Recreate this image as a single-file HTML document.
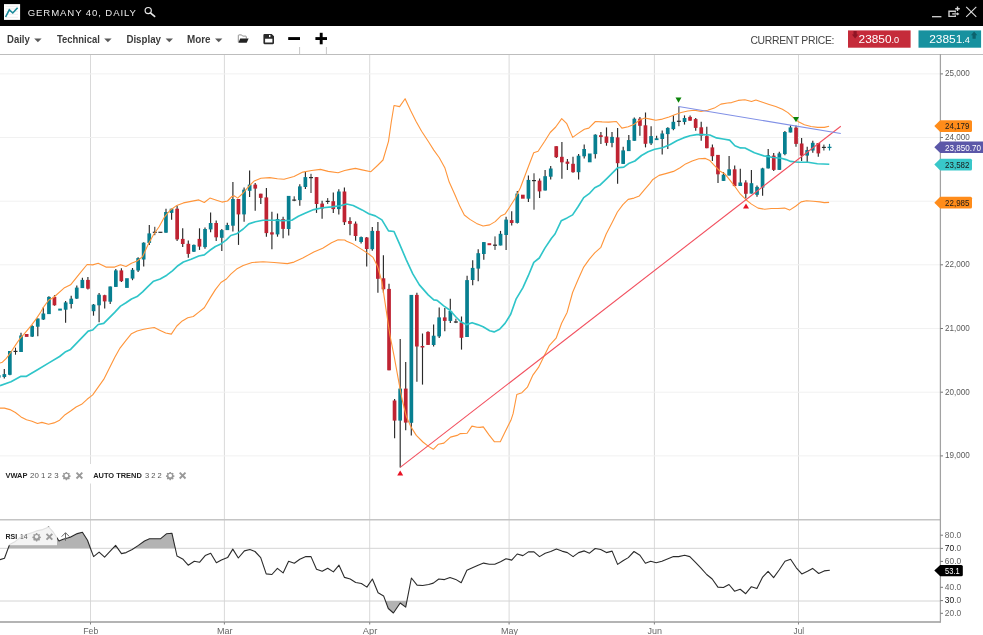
<!DOCTYPE html>
<html><head><meta charset="utf-8"><title>Germany 40, Daily</title>
<style>
html,body{margin:0;padding:0;background:#fff;}
body{width:983px;height:635px;overflow:hidden;position:relative;font-family:"Liberation Sans",sans-serif;}
#hdr{position:absolute;left:0;top:0;width:983px;height:25.6px;background:#000;}
#tb{position:absolute;left:0;top:25.6px;width:983px;height:28.1px;background:#fff;border-bottom:1px solid #bdbdbd;}
svg{position:absolute;left:0;top:0;will-change:transform;}
svg text{font-family:"Liberation Sans",sans-serif;}
</style></head><body>
<div id="hdr"></div><div id="tb"></div>
<svg width="983" height="635" viewBox="0 0 983 635">
<!-- header -->
<rect x="4" y="4.1" width="16.1" height="15.8" fill="#fff"/>
<path d="M5.5,6.4 H18 M5.5,8.9 H18 M5.5,11.6 H18 M5.5,14.3 H18 M5.5,17.3 H18" stroke="#ebebeb" stroke-width="0.8" fill="none"/>
<path d="M5.6,17 L9.3,9.9 L12.8,13 L17.6,7.7" stroke="#17899a" stroke-width="1.6" fill="none" stroke-linejoin="miter"/>
<text x="27.7" y="15.9" font-size="9.6" fill="#e8e8e8" textLength="108.2" lengthAdjust="spacing">GERMANY 40, DAILY</text>
<circle cx="148.2" cy="10.6" r="3.1" stroke="#e6e6e6" stroke-width="1.2" fill="none"/>
<path d="M150.4,12.9 L154.6,16.4" stroke="#e6e6e6" stroke-width="1.7" stroke-linecap="round"/>
<!-- window controls -->
<path d="M932,16.7 H941.4" stroke="#d4d4d4" stroke-width="1.3"/>
<path d="M955.3,12.5 V11.2 H949 V16.4 H955.3 V15.3" stroke="#cfcfcf" stroke-width="1.4" fill="none"/>
<path d="M952.2,13.9 H957.6" stroke="#cfcfcf" stroke-width="1.3" fill="none"/>
<path d="M957,12.2 L959.5,13.9 L957,15.6Z" fill="#cfcfcf"/>
<path d="M955.2,8.7 H959.8 M957.5,6.4 V11" stroke="#d8d8d8" stroke-width="1.4" fill="none"/>
<path d="M966.2,6.8 L976.3,16.9 M976.3,6.8 L966.2,16.9" stroke="#dcdcdc" stroke-width="1.1"/>
<!-- toolbar -->
<g font-weight="bold" font-size="10" fill="#3c3c3c">
<text x="7" y="43.1" textLength="22.8" lengthAdjust="spacingAndGlyphs">Daily</text>
<text x="57" y="43.1" textLength="42.8" lengthAdjust="spacingAndGlyphs">Technical</text>
<text x="126.4" y="43.1" textLength="34.6" lengthAdjust="spacingAndGlyphs">Display</text>
<text x="187" y="43.1" textLength="23.6" lengthAdjust="spacingAndGlyphs">More</text>
</g>
<g fill="#5a5a5a">
<path d="M34.2,38.6 h7.4 l-3.7,3.6z"/><path d="M104.2,38.6 h7.4 l-3.7,3.6z"/><path d="M165.6,38.6 h7.4 l-3.7,3.6z"/><path d="M215,38.6 h7.4 l-3.7,3.6z"/>
</g>
<!-- folder -->
<path d="M238.3,42.2 V35.6 Q238.3,34.9 239,34.9 H241.6 L242.6,36.1 H245.6 Q246.3,36.1 246.3,36.8 V38.6" stroke="#777" stroke-width="0.8" fill="#fff"/>
<path d="M240.2,38.6 H248.6 L246.7,42.8 H238.4Z" fill="#222"/>
<!-- save -->
<path d="M263.4,35 Q263.4,33.9 264.5,33.9 H271.7 L274,36.2 V43.1 Q274,44.2 272.9,44.2 H264.5 Q263.4,44.2 263.4,43.1Z M265.1,38.8 V42.6 H272.4 V38.8Z" fill="#2a2a2a" fill-rule="evenodd"/>
<rect x="269" y="35" width="1.4" height="2.1" fill="#fff"/>
<!-- minus plus -->
<rect x="288.2" y="37.1" width="11.8" height="2.9" fill="#000"/>
<rect x="315.4" y="37.1" width="11.6" height="2.9" fill="#000"/><rect x="319.75" y="32.8" width="2.9" height="11.5" fill="#000"/>
<path d="M299.6,47 V54 M326.4,47 V54" stroke="#c8c8c8" stroke-width="1"/>
<!-- current price -->
<text x="750.4" y="44" font-size="10.4" fill="#444" textLength="84" lengthAdjust="spacing">CURRENT PRICE:</text>
<rect x="848" y="30.4" width="62.6" height="17.3" fill="#c52b3a"/>
<rect x="918.5" y="30.4" width="62.6" height="17.3" fill="#17919f"/>
<text x="858.6" y="43.2" font-size="10.6" fill="#fff" textLength="40.6" lengthAdjust="spacingAndGlyphs">23850<tspan font-size="8.2">.0</tspan></text>
<text x="929.2" y="43.2" font-size="10.6" fill="#fff" textLength="40.8" lengthAdjust="spacingAndGlyphs">23851<tspan font-size="8.2">.4</tspan></text>
<path d="M853.5,31 h3.2 v3.6 h1.6 l-3.2,3.8 -3.2,-3.8 h1.6z" fill="#8f1424"/>
<path d="M972.5,38.8 h3.2 v-3.6 h1.6 l-3.2,-3.8 -3.2,3.8 h1.6z" fill="#0c626d"/>
<!-- chart -->
<line x1="90.5" y1="55" x2="90.5" y2="624" stroke="#d9d9d9" stroke-width="1"/>
<line x1="224.4" y1="55" x2="224.4" y2="624" stroke="#d9d9d9" stroke-width="1"/>
<line x1="369.7" y1="55" x2="369.7" y2="624" stroke="#d9d9d9" stroke-width="1"/>
<line x1="509.1" y1="55" x2="509.1" y2="624" stroke="#d9d9d9" stroke-width="1"/>
<line x1="654.4" y1="55" x2="654.4" y2="624" stroke="#d9d9d9" stroke-width="1"/>
<line x1="798.5" y1="55" x2="798.5" y2="624" stroke="#d9d9d9" stroke-width="1"/>
<line x1="0" y1="73.9" x2="940" y2="73.9" stroke="#f1f1f1" stroke-width="1"/>
<line x1="0" y1="137.5" x2="940" y2="137.5" stroke="#f1f1f1" stroke-width="1"/>
<line x1="0" y1="201.2" x2="940" y2="201.2" stroke="#f1f1f1" stroke-width="1"/>
<line x1="0" y1="264.8" x2="940" y2="264.8" stroke="#f1f1f1" stroke-width="1"/>
<line x1="0" y1="328.5" x2="940" y2="328.5" stroke="#f1f1f1" stroke-width="1"/>
<line x1="0" y1="392.2" x2="940" y2="392.2" stroke="#f1f1f1" stroke-width="1"/>
<line x1="0" y1="455.9" x2="940" y2="455.9" stroke="#f1f1f1" stroke-width="1"/>
<line x1="0" y1="548.3" x2="940" y2="548.3" stroke="#d4d4d4" stroke-width="1"/>
<line x1="0" y1="601" x2="940" y2="601" stroke="#d4d4d4" stroke-width="1"/>
<rect x="-3.1" y="375.2" width="3.7" height="2.4" fill="#077f90"/>
<line x1="4.3" y1="369.1" x2="4.3" y2="378.5" stroke="#2a2a2a" stroke-width="1.15"/>
<rect x="2.5" y="374.1" width="3.7" height="2.9" fill="#077f90"/>
<line x1="9.9" y1="351" x2="9.9" y2="375.2" stroke="#2a2a2a" stroke-width="1.15"/>
<rect x="8" y="351" width="3.7" height="23.8" fill="#077f90"/>
<line x1="15.5" y1="347.7" x2="15.5" y2="354.7" stroke="#2a2a2a" stroke-width="1"/>
<line x1="13.5" y1="351.4" x2="17.5" y2="351.4" stroke="#2a2a2a" stroke-width="1.2"/>
<line x1="21" y1="332.7" x2="21" y2="352.1" stroke="#2a2a2a" stroke-width="1.15"/>
<rect x="19.2" y="335.5" width="3.7" height="16.5" fill="#077f90"/>
<rect x="24.8" y="334" width="3.7" height="2.9" fill="#bf2332"/>
<line x1="32.2" y1="325.2" x2="32.2" y2="337.1" stroke="#2a2a2a" stroke-width="1.15"/>
<rect x="30.3" y="326" width="3.7" height="10.6" fill="#077f90"/>
<line x1="37.8" y1="318.5" x2="37.8" y2="336.2" stroke="#2a2a2a" stroke-width="1.15"/>
<rect x="35.9" y="318.5" width="3.7" height="8.2" fill="#077f90"/>
<line x1="43.3" y1="307.3" x2="43.3" y2="320.1" stroke="#2a2a2a" stroke-width="1.15"/>
<rect x="41.5" y="313.5" width="3.7" height="6" fill="#077f90"/>
<line x1="48.9" y1="296.3" x2="48.9" y2="314.1" stroke="#2a2a2a" stroke-width="1.15"/>
<rect x="47.1" y="296.9" width="3.7" height="17.2" fill="#077f90"/>
<line x1="54.5" y1="295.2" x2="54.5" y2="305.7" stroke="#2a2a2a" stroke-width="1.15"/>
<rect x="52.6" y="296.9" width="3.7" height="8.4" fill="#bf2332"/>
<rect x="58.2" y="308.6" width="3.7" height="2" fill="#077f90"/>
<line x1="65.6" y1="300.9" x2="65.6" y2="322.7" stroke="#2a2a2a" stroke-width="1.15"/>
<rect x="63.8" y="302.4" width="3.7" height="7.3" fill="#077f90"/>
<line x1="71.2" y1="295.8" x2="71.2" y2="308.6" stroke="#2a2a2a" stroke-width="1.15"/>
<rect x="69.4" y="298.7" width="3.7" height="5.3" fill="#077f90"/>
<line x1="76.8" y1="285.4" x2="76.8" y2="299.1" stroke="#2a2a2a" stroke-width="1.15"/>
<rect x="74.9" y="287.6" width="3.7" height="11" fill="#077f90"/>
<line x1="82.4" y1="277.7" x2="82.4" y2="288.1" stroke="#2a2a2a" stroke-width="1.15"/>
<rect x="80.5" y="279.9" width="3.7" height="8.2" fill="#077f90"/>
<line x1="87.9" y1="277.1" x2="87.9" y2="289.6" stroke="#2a2a2a" stroke-width="1.15"/>
<rect x="86.1" y="279.9" width="3.7" height="8.8" fill="#bf2332"/>
<line x1="93.5" y1="304" x2="93.5" y2="315.7" stroke="#2a2a2a" stroke-width="1.15"/>
<rect x="91.7" y="304.6" width="3.7" height="6.6" fill="#077f90"/>
<line x1="99.1" y1="292.9" x2="99.1" y2="322.3" stroke="#2a2a2a" stroke-width="1.15"/>
<rect x="97.2" y="294.7" width="3.7" height="10.6" fill="#077f90"/>
<line x1="104.7" y1="294.7" x2="104.7" y2="308.6" stroke="#2a2a2a" stroke-width="1.15"/>
<rect x="102.8" y="295.2" width="3.7" height="6.2" fill="#bf2332"/>
<line x1="110.2" y1="286.5" x2="110.2" y2="304" stroke="#2a2a2a" stroke-width="1.15"/>
<rect x="108.4" y="286.5" width="3.7" height="15.2" fill="#077f90"/>
<line x1="115.8" y1="269.1" x2="115.8" y2="287" stroke="#2a2a2a" stroke-width="1.15"/>
<rect x="114" y="270.4" width="3.7" height="16.5" fill="#077f90"/>
<line x1="121.4" y1="268.2" x2="121.4" y2="281.9" stroke="#2a2a2a" stroke-width="1.15"/>
<rect x="119.5" y="270.4" width="3.7" height="10.8" fill="#bf2332"/>
<rect x="125.1" y="278.2" width="3.7" height="9.7" fill="#077f90"/>
<line x1="132.5" y1="268" x2="132.5" y2="280.2" stroke="#2a2a2a" stroke-width="1.15"/>
<rect x="130.7" y="269.8" width="3.7" height="8.8" fill="#077f90"/>
<line x1="138.1" y1="257.2" x2="138.1" y2="272" stroke="#2a2a2a" stroke-width="1.15"/>
<rect x="136.3" y="258.1" width="3.7" height="12.4" fill="#077f90"/>
<line x1="143.7" y1="242.2" x2="143.7" y2="266.5" stroke="#2a2a2a" stroke-width="1.15"/>
<rect x="141.8" y="242.7" width="3.7" height="16.8" fill="#077f90"/>
<line x1="149.3" y1="225" x2="149.3" y2="244.9" stroke="#2a2a2a" stroke-width="1.15"/>
<rect x="147.4" y="233.4" width="3.7" height="9.5" fill="#077f90"/>
<line x1="154.8" y1="226.8" x2="154.8" y2="235.2" stroke="#2a2a2a" stroke-width="1"/>
<line x1="152.8" y1="232.3" x2="156.8" y2="232.3" stroke="#2a2a2a" stroke-width="1.2"/>
<line x1="160.4" y1="232.1" x2="160.4" y2="232.5" stroke="#2a2a2a" stroke-width="1"/>
<line x1="158.4" y1="232.3" x2="162.4" y2="232.3" stroke="#2a2a2a" stroke-width="1.2"/>
<line x1="166" y1="208.7" x2="166" y2="232.7" stroke="#2a2a2a" stroke-width="1.15"/>
<rect x="164.1" y="212" width="3.7" height="20.7" fill="#077f90"/>
<line x1="171.6" y1="208.7" x2="171.6" y2="219.7" stroke="#2a2a2a" stroke-width="1.15"/>
<rect x="169.7" y="208.7" width="3.7" height="4.2" fill="#077f90"/>
<line x1="177.1" y1="205.8" x2="177.1" y2="241.1" stroke="#2a2a2a" stroke-width="1.15"/>
<rect x="175.3" y="208.7" width="3.7" height="30.7" fill="#bf2332"/>
<line x1="182.7" y1="228.3" x2="182.7" y2="247.1" stroke="#2a2a2a" stroke-width="1.15"/>
<rect x="180.9" y="238.9" width="3.7" height="5.1" fill="#bf2332"/>
<line x1="188.3" y1="240.4" x2="188.3" y2="257.7" stroke="#2a2a2a" stroke-width="1.15"/>
<rect x="186.5" y="243.8" width="3.7" height="10.1" fill="#bf2332"/>
<line x1="193.9" y1="244.4" x2="193.9" y2="252.1" stroke="#2a2a2a" stroke-width="1.15"/>
<rect x="192" y="244.9" width="3.7" height="6.8" fill="#077f90"/>
<line x1="199.5" y1="228.3" x2="199.5" y2="249.9" stroke="#2a2a2a" stroke-width="1.15"/>
<rect x="197.6" y="238.9" width="3.7" height="7.7" fill="#bf2332"/>
<line x1="205" y1="227.4" x2="205" y2="248.8" stroke="#2a2a2a" stroke-width="1.15"/>
<rect x="203.2" y="229" width="3.7" height="18.1" fill="#077f90"/>
<line x1="210.6" y1="212.4" x2="210.6" y2="232.3" stroke="#2a2a2a" stroke-width="1.15"/>
<rect x="208.8" y="223" width="3.7" height="6.4" fill="#077f90"/>
<line x1="216.2" y1="220.6" x2="216.2" y2="241.1" stroke="#2a2a2a" stroke-width="1.15"/>
<rect x="214.3" y="223" width="3.7" height="14.3" fill="#bf2332"/>
<line x1="221.8" y1="229" x2="221.8" y2="251" stroke="#2a2a2a" stroke-width="1.15"/>
<rect x="219.9" y="230.1" width="3.7" height="7.7" fill="#077f90"/>
<line x1="227.3" y1="222.8" x2="227.3" y2="230.1" stroke="#2a2a2a" stroke-width="1.15"/>
<rect x="225.5" y="225" width="3.7" height="5.1" fill="#077f90"/>
<line x1="232.9" y1="182" x2="232.9" y2="231.6" stroke="#2a2a2a" stroke-width="1.15"/>
<rect x="231.1" y="199" width="3.7" height="26.7" fill="#077f90"/>
<line x1="238.5" y1="199" x2="238.5" y2="244.9" stroke="#2a2a2a" stroke-width="1.15"/>
<rect x="236.6" y="199" width="3.7" height="15.4" fill="#bf2332"/>
<line x1="244.1" y1="187.5" x2="244.1" y2="221.7" stroke="#2a2a2a" stroke-width="1.15"/>
<rect x="242.2" y="189.7" width="3.7" height="24.7" fill="#077f90"/>
<line x1="249.6" y1="170.5" x2="249.6" y2="197" stroke="#2a2a2a" stroke-width="1.15"/>
<rect x="247.8" y="184.6" width="3.7" height="6.2" fill="#077f90"/>
<line x1="255.2" y1="183.1" x2="255.2" y2="210.7" stroke="#2a2a2a" stroke-width="1.15"/>
<rect x="253.4" y="184.6" width="3.7" height="4" fill="#bf2332"/>
<line x1="260.8" y1="193.7" x2="260.8" y2="204" stroke="#2a2a2a" stroke-width="1.15"/>
<rect x="258.9" y="193.7" width="3.7" height="4.2" fill="#bf2332"/>
<line x1="266.4" y1="187.9" x2="266.4" y2="236.7" stroke="#2a2a2a" stroke-width="1.15"/>
<rect x="264.5" y="197.4" width="3.7" height="35.7" fill="#bf2332"/>
<line x1="271.9" y1="211.8" x2="271.9" y2="249.3" stroke="#2a2a2a" stroke-width="1.15"/>
<rect x="270.1" y="232.3" width="3.7" height="2.2" fill="#bf2332"/>
<line x1="277.5" y1="213.5" x2="277.5" y2="236.7" stroke="#2a2a2a" stroke-width="1.15"/>
<rect x="275.7" y="219" width="3.7" height="15.4" fill="#077f90"/>
<line x1="283.1" y1="216.8" x2="283.1" y2="238.2" stroke="#2a2a2a" stroke-width="1.15"/>
<rect x="281.2" y="219" width="3.7" height="9.9" fill="#bf2332"/>
<line x1="288.7" y1="195.9" x2="288.7" y2="235.4" stroke="#2a2a2a" stroke-width="1.15"/>
<rect x="286.8" y="195.9" width="3.7" height="33.1" fill="#077f90"/>
<line x1="294.2" y1="196.3" x2="294.2" y2="201.2" stroke="#2a2a2a" stroke-width="1"/>
<line x1="292.2" y1="200.1" x2="296.2" y2="200.1" stroke="#2a2a2a" stroke-width="1.2"/>
<line x1="299.8" y1="184.2" x2="299.8" y2="205.8" stroke="#2a2a2a" stroke-width="1.15"/>
<rect x="298" y="186.4" width="3.7" height="13.7" fill="#077f90"/>
<line x1="305.4" y1="171" x2="305.4" y2="189" stroke="#2a2a2a" stroke-width="1.15"/>
<rect x="303.5" y="177.1" width="3.7" height="9.9" fill="#077f90"/>
<line x1="311" y1="173.8" x2="311" y2="193" stroke="#2a2a2a" stroke-width="1"/>
<line x1="309" y1="177.6" x2="313" y2="177.6" stroke="#2a2a2a" stroke-width="1.2"/>
<line x1="316.5" y1="177.1" x2="316.5" y2="212.9" stroke="#2a2a2a" stroke-width="1.15"/>
<rect x="314.7" y="177.1" width="3.7" height="26.9" fill="#bf2332"/>
<line x1="322.1" y1="200.7" x2="322.1" y2="218.8" stroke="#2a2a2a" stroke-width="1.15"/>
<rect x="320.3" y="203.6" width="3.7" height="4.9" fill="#bf2332"/>
<line x1="327.7" y1="198.1" x2="327.7" y2="204" stroke="#2a2a2a" stroke-width="1"/>
<line x1="325.7" y1="201.4" x2="329.7" y2="201.4" stroke="#2a2a2a" stroke-width="1.2"/>
<line x1="333.3" y1="192.6" x2="333.3" y2="212.9" stroke="#2a2a2a" stroke-width="1.15"/>
<rect x="331.4" y="201.2" width="3.7" height="7.9" fill="#bf2332"/>
<line x1="338.8" y1="189.3" x2="338.8" y2="214.4" stroke="#2a2a2a" stroke-width="1.15"/>
<rect x="337" y="191.5" width="3.7" height="17.6" fill="#077f90"/>
<line x1="344.4" y1="187.5" x2="344.4" y2="225" stroke="#2a2a2a" stroke-width="1.15"/>
<rect x="342.6" y="191.5" width="3.7" height="30.7" fill="#bf2332"/>
<line x1="350" y1="217.2" x2="350" y2="235.3" stroke="#2a2a2a" stroke-width="1.15"/>
<rect x="348.1" y="221" width="3.7" height="2.9" fill="#bf2332"/>
<line x1="355.6" y1="221.4" x2="355.6" y2="240.8" stroke="#2a2a2a" stroke-width="1.15"/>
<rect x="353.7" y="223.6" width="3.7" height="12.4" fill="#bf2332"/>
<line x1="361.1" y1="236.4" x2="361.1" y2="243.5" stroke="#2a2a2a" stroke-width="1.15"/>
<rect x="359.3" y="237.1" width="3.7" height="4.9" fill="#077f90"/>
<line x1="366.7" y1="237.1" x2="366.7" y2="266.6" stroke="#2a2a2a" stroke-width="1.15"/>
<rect x="364.9" y="237.5" width="3.7" height="11.5" fill="#bf2332"/>
<line x1="372.3" y1="227.1" x2="372.3" y2="250.7" stroke="#2a2a2a" stroke-width="1.15"/>
<rect x="370.4" y="230.9" width="3.7" height="18.3" fill="#077f90"/>
<line x1="377.9" y1="222.1" x2="377.9" y2="292.7" stroke="#2a2a2a" stroke-width="1.15"/>
<rect x="376" y="230.9" width="3.7" height="47.9" fill="#bf2332"/>
<line x1="383.4" y1="255.2" x2="383.4" y2="292.7" stroke="#2a2a2a" stroke-width="1.15"/>
<rect x="381.6" y="278.3" width="3.7" height="11" fill="#bf2332"/>
<line x1="389" y1="283.8" x2="389" y2="370.3" stroke="#2a2a2a" stroke-width="1.15"/>
<rect x="387.2" y="288.9" width="3.7" height="81.4" fill="#bf2332"/>
<line x1="394.6" y1="399" x2="394.6" y2="438.2" stroke="#2a2a2a" stroke-width="1.15"/>
<rect x="392.7" y="400.5" width="3.7" height="20.1" fill="#bf2332"/>
<line x1="400.2" y1="339" x2="400.2" y2="467.4" stroke="#2a2a2a" stroke-width="1.15"/>
<rect x="398.3" y="388.6" width="3.7" height="32" fill="#077f90"/>
<line x1="405.7" y1="362.1" x2="405.7" y2="430.3" stroke="#2a2a2a" stroke-width="1.15"/>
<rect x="403.9" y="388.6" width="3.7" height="34" fill="#bf2332"/>
<line x1="411.3" y1="294.9" x2="411.3" y2="435.4" stroke="#2a2a2a" stroke-width="1.15"/>
<rect x="409.5" y="294.9" width="3.7" height="127.9" fill="#077f90"/>
<line x1="416.9" y1="292.7" x2="416.9" y2="381.8" stroke="#2a2a2a" stroke-width="1.15"/>
<rect x="415" y="294.9" width="3.7" height="51.6" fill="#bf2332"/>
<line x1="422.5" y1="333.5" x2="422.5" y2="384.6" stroke="#2a2a2a" stroke-width="1.15"/>
<rect x="420.6" y="346" width="3.7" height="1.5" fill="#bf2332"/>
<line x1="428" y1="331.3" x2="428" y2="344.9" stroke="#2a2a2a" stroke-width="1.15"/>
<rect x="426.2" y="331.9" width="3.7" height="13" fill="#bf2332"/>
<line x1="433.6" y1="324.6" x2="433.6" y2="346.5" stroke="#2a2a2a" stroke-width="1.15"/>
<rect x="431.8" y="335.7" width="3.7" height="9.3" fill="#077f90"/>
<line x1="439.2" y1="307.4" x2="439.2" y2="337.9" stroke="#2a2a2a" stroke-width="1.15"/>
<rect x="437.3" y="317.4" width="3.7" height="19" fill="#077f90"/>
<line x1="444.8" y1="308.1" x2="444.8" y2="331.3" stroke="#2a2a2a" stroke-width="1.15"/>
<rect x="442.9" y="317.4" width="3.7" height="3.5" fill="#bf2332"/>
<line x1="450.3" y1="298.8" x2="450.3" y2="323.1" stroke="#2a2a2a" stroke-width="1.15"/>
<rect x="448.5" y="311" width="3.7" height="9.9" fill="#077f90"/>
<line x1="455.9" y1="318.7" x2="455.9" y2="323.1" stroke="#2a2a2a" stroke-width="1"/>
<line x1="453.9" y1="322" x2="457.9" y2="322" stroke="#2a2a2a" stroke-width="1.2"/>
<line x1="461.5" y1="316.5" x2="461.5" y2="349.6" stroke="#2a2a2a" stroke-width="1.15"/>
<rect x="459.6" y="322.4" width="3.7" height="15.4" fill="#bf2332"/>
<line x1="467.1" y1="275.7" x2="467.1" y2="337" stroke="#2a2a2a" stroke-width="1.15"/>
<rect x="465.2" y="280.1" width="3.7" height="56.9" fill="#077f90"/>
<line x1="472.7" y1="260.2" x2="472.7" y2="285.2" stroke="#2a2a2a" stroke-width="1.15"/>
<rect x="470.8" y="267.9" width="3.7" height="12.1" fill="#077f90"/>
<line x1="478.2" y1="249.2" x2="478.2" y2="281.2" stroke="#2a2a2a" stroke-width="1.15"/>
<rect x="476.4" y="253.2" width="3.7" height="15.4" fill="#077f90"/>
<line x1="483.8" y1="242.1" x2="483.8" y2="259.8" stroke="#2a2a2a" stroke-width="1.15"/>
<rect x="482" y="242.1" width="3.7" height="11.9" fill="#077f90"/>
<rect x="487.5" y="243.2" width="3.7" height="2" fill="#bf2332"/>
<line x1="495" y1="236.4" x2="495" y2="249.9" stroke="#2a2a2a" stroke-width="1"/>
<line x1="493" y1="245.2" x2="497" y2="245.2" stroke="#2a2a2a" stroke-width="1.2"/>
<line x1="500.5" y1="230.9" x2="500.5" y2="245.4" stroke="#2a2a2a" stroke-width="1.15"/>
<rect x="498.7" y="233.8" width="3.7" height="11.7" fill="#077f90"/>
<line x1="506.1" y1="216.8" x2="506.1" y2="249.9" stroke="#2a2a2a" stroke-width="1.15"/>
<rect x="504.3" y="219.6" width="3.7" height="15.4" fill="#077f90"/>
<line x1="511.7" y1="211.3" x2="511.7" y2="225.6" stroke="#2a2a2a" stroke-width="1.15"/>
<rect x="509.8" y="220.1" width="3.7" height="2.9" fill="#bf2332"/>
<line x1="517.3" y1="191" x2="517.3" y2="223.4" stroke="#2a2a2a" stroke-width="1.15"/>
<rect x="515.4" y="193.6" width="3.7" height="29.3" fill="#077f90"/>
<rect x="521" y="194.7" width="3.7" height="4" fill="#bf2332"/>
<line x1="528.4" y1="175.5" x2="528.4" y2="202" stroke="#2a2a2a" stroke-width="1.15"/>
<rect x="526.6" y="179.9" width="3.7" height="18.8" fill="#077f90"/>
<line x1="534" y1="173.3" x2="534" y2="209.7" stroke="#2a2a2a" stroke-width="1"/>
<line x1="532" y1="180.6" x2="536" y2="180.6" stroke="#2a2a2a" stroke-width="1.2"/>
<line x1="539.6" y1="178.4" x2="539.6" y2="198" stroke="#2a2a2a" stroke-width="1.15"/>
<rect x="537.7" y="180.6" width="3.7" height="10.8" fill="#bf2332"/>
<line x1="545.1" y1="170" x2="545.1" y2="190.5" stroke="#2a2a2a" stroke-width="1.15"/>
<rect x="543.3" y="176.2" width="3.7" height="14.3" fill="#077f90"/>
<line x1="550.7" y1="166" x2="550.7" y2="179.5" stroke="#2a2a2a" stroke-width="1.15"/>
<rect x="548.9" y="168.5" width="3.7" height="8.2" fill="#077f90"/>
<line x1="556.3" y1="146.2" x2="556.3" y2="157.9" stroke="#2a2a2a" stroke-width="1.15"/>
<rect x="554.4" y="146.2" width="3.7" height="11" fill="#bf2332"/>
<line x1="561.9" y1="142" x2="561.9" y2="178.8" stroke="#2a2a2a" stroke-width="1.15"/>
<rect x="560" y="156.8" width="3.7" height="5.5" fill="#bf2332"/>
<line x1="567.4" y1="159" x2="567.4" y2="170" stroke="#2a2a2a" stroke-width="1.15"/>
<rect x="565.6" y="161.6" width="3.7" height="2.2" fill="#bf2332"/>
<line x1="573" y1="156.8" x2="573" y2="172.7" stroke="#2a2a2a" stroke-width="1.15"/>
<rect x="571.2" y="163.8" width="3.7" height="8.4" fill="#bf2332"/>
<line x1="578.6" y1="154.1" x2="578.6" y2="179.5" stroke="#2a2a2a" stroke-width="1.15"/>
<rect x="576.7" y="155.7" width="3.7" height="16.5" fill="#077f90"/>
<line x1="584.2" y1="144.6" x2="584.2" y2="158.5" stroke="#2a2a2a" stroke-width="1.15"/>
<rect x="582.3" y="149" width="3.7" height="7.3" fill="#077f90"/>
<rect x="587.9" y="153.5" width="3.7" height="8.8" fill="#077f90"/>
<line x1="595.3" y1="134.3" x2="595.3" y2="158.5" stroke="#2a2a2a" stroke-width="1.15"/>
<rect x="593.5" y="134.7" width="3.7" height="19.4" fill="#077f90"/>
<line x1="600.9" y1="132.1" x2="600.9" y2="144" stroke="#2a2a2a" stroke-width="1.15"/>
<rect x="599" y="135.2" width="3.7" height="1.8" fill="#bf2332"/>
<line x1="606.5" y1="127.4" x2="606.5" y2="145.7" stroke="#2a2a2a" stroke-width="1.15"/>
<rect x="604.6" y="136.5" width="3.7" height="6.4" fill="#bf2332"/>
<line x1="612" y1="132.1" x2="612" y2="147.3" stroke="#2a2a2a" stroke-width="1.15"/>
<rect x="610.2" y="136.9" width="3.7" height="6" fill="#077f90"/>
<line x1="617.6" y1="127.9" x2="617.6" y2="183.8" stroke="#2a2a2a" stroke-width="1.15"/>
<rect x="615.8" y="137.4" width="3.7" height="25.8" fill="#bf2332"/>
<line x1="623.2" y1="146.7" x2="623.2" y2="163.9" stroke="#2a2a2a" stroke-width="1.15"/>
<rect x="621.3" y="150.4" width="3.7" height="13.5" fill="#077f90"/>
<line x1="628.8" y1="135" x2="628.8" y2="151.1" stroke="#2a2a2a" stroke-width="1.15"/>
<rect x="626.9" y="140.1" width="3.7" height="11" fill="#077f90"/>
<line x1="634.3" y1="117.6" x2="634.3" y2="140.7" stroke="#2a2a2a" stroke-width="1.15"/>
<rect x="632.5" y="118.7" width="3.7" height="22.1" fill="#077f90"/>
<line x1="639.9" y1="116.9" x2="639.9" y2="135.7" stroke="#2a2a2a" stroke-width="1.15"/>
<rect x="638.1" y="118.7" width="3.7" height="7.1" fill="#bf2332"/>
<line x1="645.5" y1="112.5" x2="645.5" y2="147.4" stroke="#2a2a2a" stroke-width="1.15"/>
<rect x="643.6" y="125.3" width="3.7" height="18.5" fill="#bf2332"/>
<line x1="651.1" y1="126.2" x2="651.1" y2="144.9" stroke="#2a2a2a" stroke-width="1.15"/>
<rect x="649.2" y="136.1" width="3.7" height="7.3" fill="#077f90"/>
<line x1="656.6" y1="135.7" x2="656.6" y2="140.1" stroke="#2a2a2a" stroke-width="1.15"/>
<rect x="654.8" y="138.3" width="3.7" height="1.8" fill="#077f90"/>
<line x1="662.2" y1="130.6" x2="662.2" y2="154.4" stroke="#2a2a2a" stroke-width="1.15"/>
<rect x="660.4" y="133.5" width="3.7" height="5.5" fill="#077f90"/>
<line x1="667.8" y1="127.3" x2="667.8" y2="148.9" stroke="#2a2a2a" stroke-width="1.15"/>
<rect x="665.9" y="127.9" width="3.7" height="6.2" fill="#077f90"/>
<line x1="673.4" y1="115.4" x2="673.4" y2="130.2" stroke="#2a2a2a" stroke-width="1.15"/>
<rect x="671.5" y="121.8" width="3.7" height="7.3" fill="#077f90"/>
<line x1="678.9" y1="106.5" x2="678.9" y2="126.2" stroke="#2a2a2a" stroke-width="1"/>
<line x1="676.9" y1="121.3" x2="680.9" y2="121.3" stroke="#2a2a2a" stroke-width="1.2"/>
<line x1="684.5" y1="115.4" x2="684.5" y2="124.6" stroke="#2a2a2a" stroke-width="1.15"/>
<rect x="682.7" y="118" width="3.7" height="4" fill="#077f90"/>
<line x1="690.1" y1="115.4" x2="690.1" y2="120.7" stroke="#2a2a2a" stroke-width="1.15"/>
<rect x="688.2" y="116.9" width="3.7" height="3.8" fill="#bf2332"/>
<line x1="695.7" y1="118" x2="695.7" y2="130.8" stroke="#2a2a2a" stroke-width="1.15"/>
<rect x="693.8" y="119.1" width="3.7" height="8.8" fill="#bf2332"/>
<line x1="701.2" y1="121.8" x2="701.2" y2="140.7" stroke="#2a2a2a" stroke-width="1.15"/>
<rect x="699.4" y="127.3" width="3.7" height="8.4" fill="#bf2332"/>
<line x1="706.8" y1="126.8" x2="706.8" y2="148.2" stroke="#2a2a2a" stroke-width="1.15"/>
<rect x="705" y="136.1" width="3.7" height="12.1" fill="#bf2332"/>
<line x1="712.4" y1="144.5" x2="712.4" y2="161" stroke="#2a2a2a" stroke-width="1.15"/>
<rect x="710.5" y="147.4" width="3.7" height="8.8" fill="#bf2332"/>
<line x1="718" y1="154.9" x2="718" y2="183.1" stroke="#2a2a2a" stroke-width="1.15"/>
<rect x="716.1" y="154.9" width="3.7" height="19.4" fill="#bf2332"/>
<line x1="723.5" y1="172.1" x2="723.5" y2="180.9" stroke="#2a2a2a" stroke-width="1.15"/>
<rect x="721.7" y="174.7" width="3.7" height="6.2" fill="#077f90"/>
<line x1="729.1" y1="156" x2="729.1" y2="175.4" stroke="#2a2a2a" stroke-width="1.15"/>
<rect x="727.3" y="169.3" width="3.7" height="6.2" fill="#077f90"/>
<line x1="734.7" y1="165.5" x2="734.7" y2="186" stroke="#2a2a2a" stroke-width="1.15"/>
<rect x="732.8" y="169.3" width="3.7" height="16.8" fill="#bf2332"/>
<line x1="740.3" y1="168.8" x2="740.3" y2="186" stroke="#2a2a2a" stroke-width="1.15"/>
<rect x="738.4" y="182.5" width="3.7" height="3.5" fill="#077f90"/>
<line x1="745.8" y1="180.3" x2="745.8" y2="198.6" stroke="#2a2a2a" stroke-width="1.15"/>
<rect x="744" y="182.5" width="3.7" height="11.3" fill="#bf2332"/>
<line x1="751.4" y1="169.9" x2="751.4" y2="193.5" stroke="#2a2a2a" stroke-width="1.15"/>
<rect x="749.6" y="183.2" width="3.7" height="10.4" fill="#077f90"/>
<line x1="757" y1="185.4" x2="757" y2="196.8" stroke="#2a2a2a" stroke-width="1.15"/>
<rect x="755.2" y="186.9" width="3.7" height="7.9" fill="#077f90"/>
<line x1="762.6" y1="167.7" x2="762.6" y2="195.7" stroke="#2a2a2a" stroke-width="1.15"/>
<rect x="760.7" y="168.4" width="3.7" height="19.2" fill="#077f90"/>
<line x1="768.2" y1="149" x2="768.2" y2="168.4" stroke="#2a2a2a" stroke-width="1.15"/>
<rect x="766.3" y="155.2" width="3.7" height="13.2" fill="#077f90"/>
<line x1="773.7" y1="152.9" x2="773.7" y2="171" stroke="#2a2a2a" stroke-width="1.15"/>
<rect x="771.9" y="155.6" width="3.7" height="14.3" fill="#bf2332"/>
<line x1="779.3" y1="151.8" x2="779.3" y2="169.9" stroke="#2a2a2a" stroke-width="1.15"/>
<rect x="777.5" y="153.4" width="3.7" height="16.5" fill="#077f90"/>
<line x1="784.9" y1="130.9" x2="784.9" y2="155.2" stroke="#2a2a2a" stroke-width="1.15"/>
<rect x="783" y="132" width="3.7" height="22.1" fill="#077f90"/>
<line x1="790.5" y1="125.4" x2="790.5" y2="132.4" stroke="#2a2a2a" stroke-width="1.15"/>
<rect x="788.6" y="127.4" width="3.7" height="5.1" fill="#077f90"/>
<line x1="796" y1="125.4" x2="796" y2="146.8" stroke="#2a2a2a" stroke-width="1.15"/>
<rect x="794.2" y="127.6" width="3.7" height="16.3" fill="#bf2332"/>
<line x1="801.6" y1="137.9" x2="801.6" y2="161.1" stroke="#2a2a2a" stroke-width="1.15"/>
<rect x="799.8" y="143.5" width="3.7" height="12.1" fill="#bf2332"/>
<line x1="807.2" y1="146.8" x2="807.2" y2="162.2" stroke="#2a2a2a" stroke-width="1.15"/>
<rect x="805.3" y="150.1" width="3.7" height="5.5" fill="#077f90"/>
<line x1="812.8" y1="140.8" x2="812.8" y2="152.7" stroke="#2a2a2a" stroke-width="1.15"/>
<rect x="810.9" y="142.8" width="3.7" height="7.7" fill="#077f90"/>
<line x1="818.3" y1="143" x2="818.3" y2="156.7" stroke="#2a2a2a" stroke-width="1.15"/>
<rect x="816.5" y="143" width="3.7" height="10.4" fill="#bf2332"/>
<line x1="823.9" y1="144.6" x2="823.9" y2="150.5" stroke="#2a2a2a" stroke-width="1"/>
<line x1="821.9" y1="147.4" x2="825.9" y2="147.4" stroke="#2a2a2a" stroke-width="1.2"/>
<line x1="829.5" y1="143.9" x2="829.5" y2="150.5" stroke="#077f90" stroke-width="1.15"/>
<line x1="827.5" y1="147.4" x2="831.5" y2="147.4" stroke="#077f90" stroke-width="1.3"/>
<path d="M0,363 L2.4,362.2 L6.3,358.3 L11,352 L15.7,344.9 L20.5,337.8 L23.6,334.6 L27.6,329.9 L31.5,325.2 L36.2,318.9 L40.9,311.8 L44.1,306.3 L48.8,300 L52.9,298 L64,288.1 L70.6,284.8 L79.4,273.8 L87.1,264.5 L92.7,264.9 L98.2,263.2 L105.9,267.1 L114.7,267.1 L120.5,264.7 L126,266.5 L131.5,263.2 L137.1,261 L142.6,256.6 L148.1,244.4 L153.6,234.5 L159.1,226.8 L164.6,216.8 L170.2,210.2 L176.8,205.4 L183.4,202.9 L191.1,201.4 L198.8,199.9 L204.3,202.5 L209.9,198.1 L216.5,200.3 L222,202.1 L227.5,201 L231.9,196.5 L234.4,195.9 L237.7,198.1 L243.2,193 L248.8,186.4 L254.3,180.9 L260.9,178.2 L269.7,177.6 L277.4,178.7 L284,179.3 L294,176.5 L302.8,172.1 L311.6,170.5 L320.4,169.4 L328.2,171.4 L338.1,172.7 L344.7,170.5 L350,169.4 L355.4,168.4 L362.1,169.9 L370.9,171.7 L377.5,165.5 L383,160 L388.5,141.3 L391.2,122.5 L394,105.5 L399.6,106.6 L405.1,98.7 L410.6,110.4 L416.1,121.4 L421.6,131.3 L428.2,141.3 L433.8,150.1 L439.3,157.8 L444.8,167.7 L449.2,182.1 L454.7,194.2 L460,206.6 L464.3,215 L469.9,219.4 L476.5,223.4 L483.1,226 L489.7,224.9 L495.2,221.6 L500.7,216.1 L505,214.1 L509.4,207.5 L514.9,198.7 L520.4,187.7 L527.1,170 L533.7,152.8 L538.1,151.3 L544.7,141.3 L550.2,132.5 L555.7,127 L561.7,118.6 L566.8,123.7 L572.7,137.4 L577.8,133.6 L584.4,129.2 L588.8,128.1 L595.4,121.5 L602.1,121.9 L608.7,122.1 L616.4,121.5 L621.9,128.1 L628.2,126.8 L633.8,124.6 L639.3,120.2 L644.8,118 L650.3,119.1 L655.8,120.2 L662.4,119.1 L669,116.9 L674.6,114.7 L681.2,112.5 L687.8,111 L694.4,110.3 L701,111.4 L707.7,110.3 L714.3,108.1 L720.9,104.1 L727.5,103 L731.6,102.6 L738.2,100.4 L744.9,99.8 L751.5,101.5 L755.9,100 L762.5,102.2 L769.1,104.4 L775.7,106.6 L782.4,109.3 L787.9,112.6 L793.4,117.6 L798.9,122.1 L804.4,124.7 L811,126.5 L817.7,127.4 L824.3,127.4 L829.1,126.3" fill="none" stroke="#ff953a" stroke-width="1.1" stroke-linejoin="round"/>
<path d="M0,408.1 L4.4,408.1 L9.9,409.6 L15.4,412.5 L21,416.9 L26.5,419.8 L32,421.3 L37.5,423.5 L41.9,422.4 L48.5,424.2 L54,422.9 L59.6,420.2 L65.1,414.7 L70.6,411 L76.1,407 L81.6,404.3 L87.1,399.3 L92.7,394.9 L98.2,387.1 L103.7,379.4 L109.2,368.4 L114.7,357.4 L120,348.1 L126,340.3 L131.5,333.7 L137.1,331 L143.7,329.3 L149.2,328.2 L154.3,327.5 L160.2,330.4 L165.7,333 L171.3,334.1 L176.8,326 L182.3,320.9 L187.8,317.8 L193.3,316.5 L198.8,312.1 L204.3,307.7 L209.9,298.4 L215.4,289.6 L220.9,282.5 L226.4,279 L230.8,274.1 L236.6,269.1 L243.2,265.4 L252.1,262.5 L263.1,261.8 L274.1,262.5 L287.4,263.6 L294,262.1 L302.8,258.1 L313.8,251.9 L322.7,248.2 L331.5,242.7 L338.1,239.8 L344.7,240 L346.6,241.3 L353.2,244.1 L362.1,249.6 L368.7,254 L373.1,257.4 L377.5,266.2 L381.9,281.6 L389.9,335 L394.3,357.1 L398.7,381.3 L402,399 L406.4,416.6 L410.8,426.6 L416.3,435.4 L422.9,442 L428.5,446.4 L433.3,449.3 L438.4,444.2 L443.9,443.1 L450.5,437.1 L457.1,435.4 L460.4,433.6 L467.1,433.2 L471.9,426.1 L477,427.2 L480,427.4 L483.3,426.9 L488.8,434.6 L494.3,441.7 L500.3,441.7 L505.4,431.3 L510.9,420.3 L513.1,413.7 L516.8,394.5 L521.9,392.7 L527.4,387.2 L532.9,375.1 L538.5,367.4 L544,356.3 L549.5,345.3 L556.1,338.2 L561.6,323.2 L567.1,312.4 L572.6,292.5 L578.2,279.3 L583.7,267.1 L589.2,259.4 L594.7,252.8 L600.9,247.3 L606.2,234 L611.9,223 L617.4,212 L622.9,204.7 L628.2,199.4 L634,198.1 L639.3,195.9 L644.3,189.9 L649.9,183.3 L652.5,179.8 L659.1,175.4 L665.7,173.6 L673.5,171.4 L680.1,167.7 L685.6,163.9 L692.2,161 L698.8,158.8 L705.4,158.4 L709.9,160.6 L714.3,165.4 L719.8,171 L725.3,174.3 L729.7,179.8 L734.9,186.5 L740.4,194.2 L746,199.7 L751.5,204.1 L758.1,208.1 L764.7,209.2 L771.3,208.5 L777.9,208.5 L784.6,208.1 L789.6,210.1 L795.6,206.3 L801.1,201.9 L806.6,200.8 L813.2,201.3 L819.9,201.9 L824.3,202.6 L829.1,202.4" fill="none" stroke="#ff953a" stroke-width="1.1" stroke-linejoin="round"/>
<path d="M0,385.6 L11,381.8 L21,376.3 L26.5,376.3 L37.5,369.7 L48.5,363.1 L59.6,356.5 L65.1,352.1 L70.6,349.4 L88.2,331.1 L92.7,330 L98.2,324.5 L103.7,323.4 L114.7,312.4 L120.5,306.1 L126,302.8 L131.5,299 L137.1,296.6 L142.6,291.8 L148.1,286.3 L153.6,281.2 L160.2,279 L166.8,275.2 L172.4,270.8 L177.9,265.7 L183.4,262 L191.1,259.3 L198.8,256 L204.3,254.9 L209.9,250.3 L215.4,246.5 L220.9,243.9 L226.4,239.9 L230.8,235.5 L236.6,233.8 L243.2,229 L248.8,223.9 L255.4,221.7 L263.1,220.2 L274.1,220.2 L282.9,220.6 L291.8,220.2 L298.4,216.2 L305,213.3 L313.8,209.6 L322.7,207.8 L331.5,206.9 L340.3,205.8 L346.6,204 L353.2,205.5 L362.1,209.9 L368.7,213.7 L375.3,215.9 L381.9,219.9 L388.5,230.9 L394,231.5 L399.6,244.1 L406.2,259.6 L412.8,273.9 L419.4,284.9 L428.2,294.9 L433.8,299.9 L437.1,300.4 L443.7,305.9 L450,310.3 L455.5,316.5 L461,322 L466.5,324.6 L472.1,322.7 L477.6,324.6 L483.1,326.8 L489.7,330.8 L494.1,331.9 L499.6,329.3 L505.2,323.1 L510.7,314.3 L516.2,298.8 L522.8,287.8 L528.3,275.7 L533.8,262.4 L539.3,258 L544.9,248.1 L551.5,238.2 L555,234 L561.2,220.8 L567.1,217.9 L572.6,214.9 L578.2,206.5 L583.7,197.6 L589.2,193.7 L594.7,187.7 L600.2,184.9 L606.5,178.8 L612,173.3 L617.5,167.8 L621.9,167.4 L623.8,167.2 L629.3,163.2 L634.9,161 L641.5,155.5 L648.1,151.8 L654.7,149.3 L662.4,147.8 L670.2,144.5 L676.8,140.7 L683.4,137.9 L690,135.7 L696.6,134.6 L703.2,134.6 L709.9,135 L716.5,137.9 L723.1,139 L729.7,140.1 L734.9,145.7 L740.4,147.9 L745,148 L754.4,152.8 L763.9,155.9 L773.3,157.5 L781.2,158.3 L786,159.6 L790.7,161.4 L798.5,162.2 L808,162.2 L817.4,163.8 L829.3,164.3" fill="none" stroke="#2fc5c9" stroke-width="1.65" stroke-linejoin="round"/>
<line x1="400.2" y1="467.4" x2="840.8" y2="126.3" stroke="#f2505f" stroke-width="1.1"/>
<line x1="678.5" y1="106.5" x2="840.8" y2="133.5" stroke="#8090e6" stroke-width="1.1"/>
<path d="M397.2,475.6 L403.2,475.6 L400.2,470.6Z" fill="#e81123"/>
<path d="M743,208.4 L749,208.4 L746,203.4Z" fill="#e81123"/>
<path d="M675.5,97.5 L681.5,97.5 L678.5,102.7Z" fill="#0a8408"/>
<path d="M793,117.1 L799,117.1 L796,122.3Z" fill="#0a8408"/>
<path d="M8.1,548.3 L9.6,544.4 L15.3,541.4 L20.3,537.3 L26.4,534.6 L32.6,532.6 L37.6,530.6 L42.7,529.6 L48.8,527.1 L53.3,532.2 L59,541 L63.1,539.3 L70.2,537.3 L77.3,533.6 L82.4,532.2 L87.5,540.3 L90.5,548.3Z" fill="#b3b3b3"/>
<path d="M112.9,548.3 L115.6,545.4 L117.6,548.3Z" fill="#b3b3b3"/>
<path d="M134.1,548.3 L138.4,545.4 L144.5,541 L149.5,538.7 L160.7,538.7 L166.4,533.8 L171.9,533.2 L175.3,548.3Z" fill="#b3b3b3"/>
<path d="M385.5,601 L388.3,608.5 L393.4,613 L400.2,603 L405.7,607.1 L406.9,601Z" fill="#b3b3b3"/>
<path d="M0,559.7 L4.5,558.3 L9.6,544.4 L15.3,541.4 L20.3,537.3 L26.4,534.6 L32.6,532.6 L37.6,530.6 L42.7,529.6 L48.8,527.1 L53.3,532.2 L59,541 L63.1,539.3 L70.2,537.3 L77.3,533.6 L82.4,532.2 L87.5,540.3 L90.5,548.5 L93.6,556.6 L99.1,552.1 L104.6,557.2 L115.6,545.4 L121.5,553.6 L126.1,552.6 L132.2,549.5 L138.4,545.4 L144.5,541 L149.5,538.7 L160.7,538.7 L166.4,533.8 L171.9,533.2 L177,556 L183.1,559.3 L188.2,565.2 L194.3,561.3 L199.5,562.3 L205.2,555.6 L210.7,553.2 L216.4,562.7 L221.4,560.1 L227.6,557.6 L232.8,549.1 L238.3,558 L244.4,550.9 L249.9,549.5 L255,551.5 L260.7,557.6 L266.2,573.9 L271.9,574.5 L277.4,568.4 L283.1,572.9 L288.6,561.3 L294.3,563.3 L299.8,559.3 L305.9,556.6 L311,556.6 L316.5,569.2 L322.2,571.3 L327.7,568.2 L333.4,571.9 L339,565.2 L344.5,577.4 L350.2,579 L355.7,582.5 L361.4,583.5 L366.9,587.1 L372.4,579 L378.1,592.8 L383.6,595.9 L388.3,608.5 L393.4,613 L400.2,603 L405.7,607.1 L411.4,578 L417.1,585.1 L422.6,585.5 L428.7,584.5 L433.3,583.1 L438.8,579 L444.5,579.6 L450,577.6 L455.7,579.4 L461.2,582.7 L466.9,570.3 L472.4,567.8 L478.1,565.2 L483.6,563.1 L489.3,564.2 L494.8,564.2 L500.5,561.7 L506,558.7 L511.7,560.1 L517.2,554 L522.9,555.6 L528.4,551.9 L534,551.9 L539.5,556.6 L545.2,553.2 L550.7,551.5 L556.4,549.1 L561.9,551.1 L567.4,552.6 L573.1,556.6 L578.6,552.6 L584.3,550.9 L589.5,553.2 L595.2,548.5 L600.7,549.5 L606.4,552.6 L612.1,551.1 L617.6,564.4 L623,560.7 L628.3,557.6 L634,551.5 L639.9,555.2 L645.4,563.3 L650.7,561.3 L656.2,562.7 L661.9,561.3 L667.4,559.1 L673.5,556.6 L678.6,556.6 L684.7,555.2 L689.8,556.6 L695.5,562.3 L701,568.2 L706.7,574.5 L712.2,579 L717.9,587.1 L723.4,587.5 L729,584.5 L734.5,591.2 L740.2,589.2 L745.7,593.7 L751.4,586.7 L756.9,588.6 L762.4,577.4 L768.1,571.3 L773.6,577.6 L779.3,569.8 L785,561.3 L790.6,559.3 L796.3,567.8 L801.8,573.9 L807.5,571.3 L812.6,568.4 L818.7,573.5 L824.2,570.9 L829.8,570.3" fill="none" stroke="#2b2b2b" stroke-width="1.1" stroke-linejoin="round"/>
<line x1="0" y1="519.8" x2="940.4" y2="519.8" stroke="#c4c4c4" stroke-width="1.6"/>
<line x1="0" y1="622" x2="940.4" y2="622" stroke="#b4b4b4" stroke-width="1.8"/>
<line x1="940.4" y1="54" x2="940.4" y2="622.8" stroke="#a2a2a2" stroke-width="1.25"/>
<line x1="90.5" y1="622" x2="90.5" y2="624.5" stroke="#888" stroke-width="1"/>
<line x1="224.4" y1="622" x2="224.4" y2="624.5" stroke="#888" stroke-width="1"/>
<line x1="369.7" y1="622" x2="369.7" y2="624.5" stroke="#888" stroke-width="1"/>
<line x1="509.1" y1="622" x2="509.1" y2="624.5" stroke="#888" stroke-width="1"/>
<line x1="654.4" y1="622" x2="654.4" y2="624.5" stroke="#888" stroke-width="1"/>
<line x1="798.5" y1="622" x2="798.5" y2="624.5" stroke="#888" stroke-width="1"/>
<line x1="940.4" y1="73.9" x2="943" y2="73.9" stroke="#777" stroke-width="1"/>
<text x="944.9" y="76.4" font-size="9.5" fill="#5a5a5a" text-anchor="start" font-weight="normal" textLength="24.8" lengthAdjust="spacingAndGlyphs" >25,000</text>
<line x1="940.4" y1="137.5" x2="943" y2="137.5" stroke="#777" stroke-width="1"/>
<text x="944.9" y="140.0" font-size="9.5" fill="#5a5a5a" text-anchor="start" font-weight="normal" textLength="24.8" lengthAdjust="spacingAndGlyphs" >24,000</text>
<line x1="940.4" y1="201.2" x2="943" y2="201.2" stroke="#777" stroke-width="1"/>
<text x="944.9" y="203.7" font-size="9.5" fill="#5a5a5a" text-anchor="start" font-weight="normal" textLength="24.8" lengthAdjust="spacingAndGlyphs" >23,000</text>
<line x1="940.4" y1="264.8" x2="943" y2="264.8" stroke="#777" stroke-width="1"/>
<text x="944.9" y="267.3" font-size="9.5" fill="#5a5a5a" text-anchor="start" font-weight="normal" textLength="24.8" lengthAdjust="spacingAndGlyphs" >22,000</text>
<line x1="940.4" y1="328.5" x2="943" y2="328.5" stroke="#777" stroke-width="1"/>
<text x="944.9" y="331.0" font-size="9.5" fill="#5a5a5a" text-anchor="start" font-weight="normal" textLength="24.8" lengthAdjust="spacingAndGlyphs" >21,000</text>
<line x1="940.4" y1="392.2" x2="943" y2="392.2" stroke="#777" stroke-width="1"/>
<text x="944.9" y="394.7" font-size="9.5" fill="#5a5a5a" text-anchor="start" font-weight="normal" textLength="24.8" lengthAdjust="spacingAndGlyphs" >20,000</text>
<line x1="940.4" y1="455.9" x2="943" y2="455.9" stroke="#777" stroke-width="1"/>
<text x="944.9" y="458.4" font-size="9.5" fill="#5a5a5a" text-anchor="start" font-weight="normal" textLength="24.8" lengthAdjust="spacingAndGlyphs" >19,000</text>
<line x1="940.4" y1="535.2" x2="943" y2="535.2" stroke="#777" stroke-width="1"/>
<text x="944.8" y="537.7" font-size="9" fill="#666" text-anchor="start" font-weight="normal" textLength="16.4" lengthAdjust="spacingAndGlyphs" >80.0</text>
<line x1="940.4" y1="548.4" x2="943" y2="548.4" stroke="#777" stroke-width="1"/>
<text x="944.8" y="550.9" font-size="9" textLength="16.4" lengthAdjust="spacingAndGlyphs"><tspan fill="#111">70</tspan><tspan fill="#666">.0</tspan></text>
<line x1="940.4" y1="561.4" x2="943" y2="561.4" stroke="#777" stroke-width="1"/>
<text x="944.8" y="563.9" font-size="9" fill="#666" text-anchor="start" font-weight="normal" textLength="16.4" lengthAdjust="spacingAndGlyphs" >60.0</text>
<line x1="940.4" y1="587.3" x2="943" y2="587.3" stroke="#777" stroke-width="1"/>
<text x="944.8" y="589.8" font-size="9" fill="#666" text-anchor="start" font-weight="normal" textLength="16.4" lengthAdjust="spacingAndGlyphs" >40.0</text>
<line x1="940.4" y1="600.6" x2="943" y2="600.6" stroke="#777" stroke-width="1"/>
<text x="944.8" y="603.1" font-size="9" textLength="16.4" lengthAdjust="spacingAndGlyphs"><tspan fill="#111">30</tspan><tspan fill="#666">.0</tspan></text>
<line x1="940.4" y1="613.3" x2="943" y2="613.3" stroke="#777" stroke-width="1"/>
<text x="944.8" y="615.8" font-size="9" fill="#666" text-anchor="start" font-weight="normal" textLength="16.4" lengthAdjust="spacingAndGlyphs" >20.0</text>
<text x="83.3" y="634.2" font-size="9" fill="#666" text-anchor="start" font-weight="normal" textLength="15" lengthAdjust="spacingAndGlyphs" >Feb</text>
<text x="216.95000000000002" y="634.2" font-size="9" fill="#666" text-anchor="start" font-weight="normal" textLength="15.5" lengthAdjust="spacingAndGlyphs" >Mar</text>
<text x="362.75" y="634.2" font-size="9" fill="#666" text-anchor="start" font-weight="normal" textLength="14.5" lengthAdjust="spacingAndGlyphs" >Apr</text>
<text x="500.90000000000003" y="634.2" font-size="9" fill="#666" text-anchor="start" font-weight="normal" textLength="17" lengthAdjust="spacingAndGlyphs" >May</text>
<text x="647.4499999999999" y="634.2" font-size="9" fill="#666" text-anchor="start" font-weight="normal" textLength="14.5" lengthAdjust="spacingAndGlyphs" >Jun</text>
<text x="793.55" y="634.2" font-size="9" fill="#666" text-anchor="start" font-weight="normal" textLength="10.5" lengthAdjust="spacingAndGlyphs" >Jul</text>
<path d="M934.3,126.1 L940.2,120.19999999999999 L970.5,120.19999999999999 Q972,120.19999999999999 972,121.69999999999999 L972,130.5 Q972,132.0 970.5,132.0 L940.2,132.0Z" fill="#ff8c1a"/><text x="945.1" y="129.4" font-size="9" fill="#1a1a1a" text-anchor="start" font-weight="normal" textLength="24.3" lengthAdjust="spacingAndGlyphs" >24,179</text>
<path d="M934.3,202.7 L940.2,196.79999999999998 L970.5,196.79999999999998 Q972,196.79999999999998 972,198.29999999999998 L972,207.1 Q972,208.6 970.5,208.6 L940.2,208.6Z" fill="#ff8c1a"/><text x="945.1" y="206.0" font-size="9" fill="#1a1a1a" text-anchor="start" font-weight="normal" textLength="24.3" lengthAdjust="spacingAndGlyphs" >22,985</text>
<path d="M934.3,164.6 L940.2,158.79999999999998 L970.5,158.79999999999998 Q972,158.79999999999998 972,160.29999999999998 L972,168.9 Q972,170.4 970.5,170.4 L940.2,170.4Z" fill="#39c7c9"/><text x="945.1" y="167.9" font-size="9" fill="#1a1a1a" text-anchor="start" font-weight="normal" textLength="24.3" lengthAdjust="spacingAndGlyphs" >23,582</text>
<path d="M934.3,147.3 L940.2,141.60000000000002 L988.5,141.60000000000002 Q990,141.60000000000002 990,143.10000000000002 L990,151.5 Q990,153.0 988.5,153.0 L940.2,153.0Z" fill="#5b57a8"/><text x="945.1" y="150.60000000000002" font-size="9" fill="#fff" text-anchor="start" font-weight="normal" textLength="36" lengthAdjust="spacingAndGlyphs" >23,850.70</text>
<path d="M934.3,570.6 L940.2,564.9 L961.3,564.9 Q962.8,564.9 962.8,566.4 L962.8,574.8000000000001 Q962.8,576.3000000000001 961.3,576.3000000000001 L940.2,576.3000000000001Z" fill="#000"/><text x="945.1" y="573.9" font-size="9" fill="#fff" text-anchor="start" font-weight="normal" textLength="14.6" lengthAdjust="spacingAndGlyphs" >53.1</text>

<rect x="0" y="464" width="88" height="19.5" fill="#fff"/>
<rect x="89" y="464" width="100" height="19.5" fill="#fff"/>
<text x="5.5" y="478" font-size="7.9" font-weight="bold" fill="#222" textLength="22" lengthAdjust="spacingAndGlyphs">VWAP</text>
<text x="30.1" y="478" font-size="7.9" fill="#555" textLength="28.5" lengthAdjust="spacingAndGlyphs">20 1 2 3</text>
<g transform="translate(66.4,475.5) scale(0.84)"><path d="M-0.75,-4.3 h1.5 l0.3,1.15 a3.3,3.3 0 0 1 0.95,0.4 l1.02,-0.6 1.06,1.06 -0.6,1.02 a3.3,3.3 0 0 1 0.4,0.95 l1.15,0.3 v1.5 l-1.15,0.3 a3.3,3.3 0 0 1 -0.4,0.95 l0.6,1.02 -1.06,1.06 -1.02,-0.6 a3.3,3.3 0 0 1 -0.95,0.4 l-0.3,1.15 h-1.5 l-0.3,-1.15 a3.3,3.3 0 0 1 -0.95,-0.4 l-1.02,0.6 -1.06,-1.06 0.6,-1.02 a3.3,3.3 0 0 1 -0.4,-0.95 l-1.15,-0.3 v-1.5 l1.15,-0.3 a3.3,3.3 0 0 1 0.4,-0.95 l-0.6,-1.02 1.06,-1.06 1.02,0.6 a3.3,3.3 0 0 1 0.95,-0.4z M0,-2.1 a2.1,2.1 0 1 0 0.001,0z" fill="#999" fill-rule="evenodd"/></g><path d="M76.5,472.70000000000005 L82.30000000000001,478.5 M82.30000000000001,472.70000000000005 L76.5,478.5" stroke="#999" stroke-width="1.9" fill="none"/>
<text x="93.2" y="478" font-size="7.9" font-weight="bold" fill="#222" textLength="48.6" lengthAdjust="spacingAndGlyphs">AUTO TREND</text>
<text x="144.9" y="478" font-size="7.9" fill="#555" textLength="16.8" lengthAdjust="spacingAndGlyphs">3 2 2</text>
<g transform="translate(170.2,475.5) scale(0.84)"><path d="M-0.75,-4.3 h1.5 l0.3,1.15 a3.3,3.3 0 0 1 0.95,0.4 l1.02,-0.6 1.06,1.06 -0.6,1.02 a3.3,3.3 0 0 1 0.4,0.95 l1.15,0.3 v1.5 l-1.15,0.3 a3.3,3.3 0 0 1 -0.4,0.95 l0.6,1.02 -1.06,1.06 -1.02,-0.6 a3.3,3.3 0 0 1 -0.95,0.4 l-0.3,1.15 h-1.5 l-0.3,-1.15 a3.3,3.3 0 0 1 -0.95,-0.4 l-1.02,0.6 -1.06,-1.06 0.6,-1.02 a3.3,3.3 0 0 1 -0.4,-0.95 l-1.15,-0.3 v-1.5 l1.15,-0.3 a3.3,3.3 0 0 1 0.4,-0.95 l-0.6,-1.02 1.06,-1.06 1.02,0.6 a3.3,3.3 0 0 1 0.95,-0.4z M0,-2.1 a2.1,2.1 0 1 0 0.001,0z" fill="#999" fill-rule="evenodd"/></g><path d="M179.7,472.70000000000005 L185.5,478.5 M185.5,472.70000000000005 L179.7,478.5" stroke="#999" stroke-width="1.9" fill="none"/>
<rect x="0" y="527" width="57" height="18.2" fill="#fff" fill-opacity="0.85"/>
<text x="5.5" y="539" font-size="7.9" font-weight="bold" fill="#222" textLength="11.8" lengthAdjust="spacingAndGlyphs">RSI</text>
<text x="20" y="539" font-size="7.9" fill="#555" textLength="7.5" lengthAdjust="spacingAndGlyphs">14</text>
<g transform="translate(36.6,536.7) scale(0.84)"><path d="M-0.75,-4.3 h1.5 l0.3,1.15 a3.3,3.3 0 0 1 0.95,0.4 l1.02,-0.6 1.06,1.06 -0.6,1.02 a3.3,3.3 0 0 1 0.4,0.95 l1.15,0.3 v1.5 l-1.15,0.3 a3.3,3.3 0 0 1 -0.4,0.95 l0.6,1.02 -1.06,1.06 -1.02,-0.6 a3.3,3.3 0 0 1 -0.95,0.4 l-0.3,1.15 h-1.5 l-0.3,-1.15 a3.3,3.3 0 0 1 -0.95,-0.4 l-1.02,0.6 -1.06,-1.06 0.6,-1.02 a3.3,3.3 0 0 1 -0.4,-0.95 l-1.15,-0.3 v-1.5 l1.15,-0.3 a3.3,3.3 0 0 1 0.4,-0.95 l-0.6,-1.02 1.06,-1.06 1.02,0.6 a3.3,3.3 0 0 1 0.95,-0.4z M0,-2.1 a2.1,2.1 0 1 0 0.001,0z" fill="#999" fill-rule="evenodd"/></g><path d="M46.5,533.9 L52.3,539.6999999999999 M52.3,533.9 L46.5,539.6999999999999" stroke="#999" stroke-width="1.9" fill="none"/>
<path d="M65.5,540.8 V532.8 M61.6,536.7 L65.5,532.7 L69.5,536.7" stroke="#666" stroke-width="1" fill="none"/>

</svg>
</body></html>
